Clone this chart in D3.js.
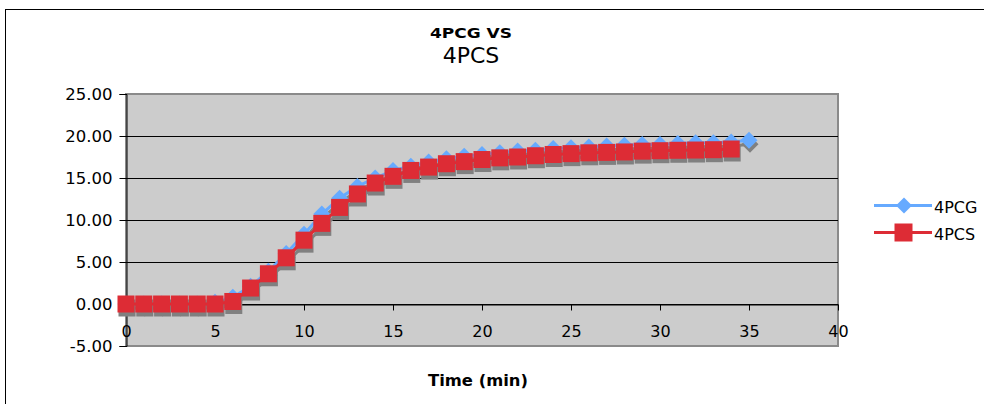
<!DOCTYPE html>
<html><head><meta charset="utf-8">
<script src="https://cdn.jsdelivr.net/npm/d3@7"></script>
<style>body{margin:0;background:#fff}svg{display:block}</style>
</head><body>
<svg id="c" width="984" height="404"></svg>
<script>
const times = d3.range(0, 36);
const series4PCG = [0,0,0,0,0,0.2,0.8,2.1,3.9,6.0,8.3,10.7,12.6,14.0,15.0,15.9,16.4,16.9,17.3,17.6,17.8,18.0,18.2,18.3,18.5,18.6,18.7,18.8,18.9,19.0,19.0,19.1,19.2,19.2,19.3,19.5];
const series4PCS = [0,0,0,0,0,0,0.3,1.9,3.6,5.5,7.6,9.6,11.5,13.1,14.4,15.2,15.9,16.3,16.7,16.95,17.2,17.4,17.5,17.65,17.8,17.9,18.0,18.05,18.1,18.2,18.25,18.3,18.33,18.37,18.45];
const xTicks = [0,5,10,15,20,25,30,35,40];
const yTicks = [-5,0,5,10,15,20,25];
const seriesNames = ["4PCG","4PCS"];
const colors = ["#66AAFF","#DD2C35"];

const svg = d3.select("#c");
const font = "DejaVu Sans, Verdana, sans-serif";
const x = d3.scaleLinear().domain([0,40]).range([126,838]);
const y = d3.scaleLinear().domain([-5,25]).range([346,94]);

// outer border
svg.append("rect").attr("x",5.5).attr("y",9.5).attr("width",1000).attr("height",420)
  .attr("fill","#fff").attr("stroke","#000").attr("stroke-width",1);

// titles
svg.append("text").attr("x",471).attr("y",38).attr("text-anchor","middle")
  .attr("font-family",font).attr("font-weight","bold").attr("font-size",14)
  .attr("textLength",82).attr("lengthAdjust","spacingAndGlyphs").text("4PCG VS");
svg.append("text").attr("x",471).attr("y",63).attr("text-anchor","middle")
  .attr("font-family",font).attr("font-size",22).text("4PCS");

// plot area
svg.append("rect").attr("x",x(0)).attr("y",y(25)).attr("width",x(40)-x(0)).attr("height",y(-5)-y(25))
  .attr("fill","#CCCCCC").attr("stroke","#8a8a8a").attr("stroke-width",2);

// gridlines
svg.append("g").selectAll("line").data(yTicks.filter(d=>d>-5 && d<25)).join("line")
  .attr("x1",x(0)).attr("x2",x(40)).attr("y1",d=>Math.round(y(d))+0.5).attr("y2",d=>Math.round(y(d))+0.5)
  .attr("stroke","#000").attr("stroke-width",1);

// y axis
const yFmt = d => d.toFixed(2);
const yAxis = svg.append("g").attr("transform",`translate(${x(0)+0.5},0)`)
  .call(d3.axisLeft(y).tickValues(yTicks).tickFormat(yFmt).tickSize(7).tickPadding(7));
yAxis.select(".domain").attr("stroke","#000");
yAxis.selectAll("text").attr("font-family",font).attr("font-size",16.5).attr("fill","#000");

// x axis at y=0
const xAxis = svg.append("g").attr("transform",`translate(0,${Math.round(y(0))+0.5})`)
  .call(d3.axisBottom(x).tickValues(xTicks).tickSize(6).tickPadding(15).tickSizeOuter(0));
xAxis.select(".domain").attr("stroke","#000");
xAxis.selectAll("text").attr("font-family",font).attr("font-size",16).attr("fill","#000");

svg.append("text").attr("x",478).attr("y",386).attr("text-anchor","middle")
  .attr("font-family",font).attr("font-weight","bold").attr("font-size",16)
  .attr("textLength",100).attr("lengthAdjust","spacingAndGlyphs").text("Time (min)");

const line = d3.line().x((d,i)=>x(times[i])).y(d=>y(d));
const sq = 17, dm = 8.5;
function drawSeries(data, k, dx, dy, col){
  const g = svg.append("g").attr("transform",`translate(${dx},${dy})`);
  g.append("path").datum(data).attr("d",line).attr("fill","none").attr("stroke",col).attr("stroke-width",3);
  if(k===0){
    g.selectAll("path.m").data(data).join("path").attr("class","m")
      .attr("d",(d,i)=>{const cx=x(times[i]),cy=y(d);return `M${cx},${cy-dm}L${cx+dm},${cy}L${cx},${cy+dm}L${cx-dm},${cy}Z`;})
      .attr("fill",col);
  } else {
    g.selectAll("rect").data(data).join("rect")
      .attr("x",(d,i)=>x(times[i])-sq/2).attr("y",d=>y(d)-sq/2).attr("width",sq).attr("height",sq)
      .attr("fill",col);
  }
}
drawSeries(series4PCG,0,1,4,"#808080");
drawSeries(series4PCG,0,0,0,colors[0]);
drawSeries(series4PCS,1,1,4,"#808080");
drawSeries(series4PCS,1,0,0,colors[1]);

// legend
const lg = svg.append("g");
seriesNames.forEach((n,i)=>{
  const ly = 205.5 + i*27;
  lg.append("line").attr("x1",874).attr("x2",932).attr("y1",ly).attr("y2",ly).attr("stroke",colors[i]).attr("stroke-width",3);
  if(i===0) lg.append("path").attr("d",`M904,${ly-8}L912,${ly}L904,${ly+8}L896,${ly}Z`).attr("fill",colors[i]);
  else lg.append("rect").attr("x",894.5).attr("y",ly-9).attr("width",18).attr("height",18).attr("fill",colors[i]);
  lg.append("text").attr("x",934).attr("y",ly+7.5).attr("font-family",font).attr("font-size",16).text(n);
});
</script>
</body></html>
